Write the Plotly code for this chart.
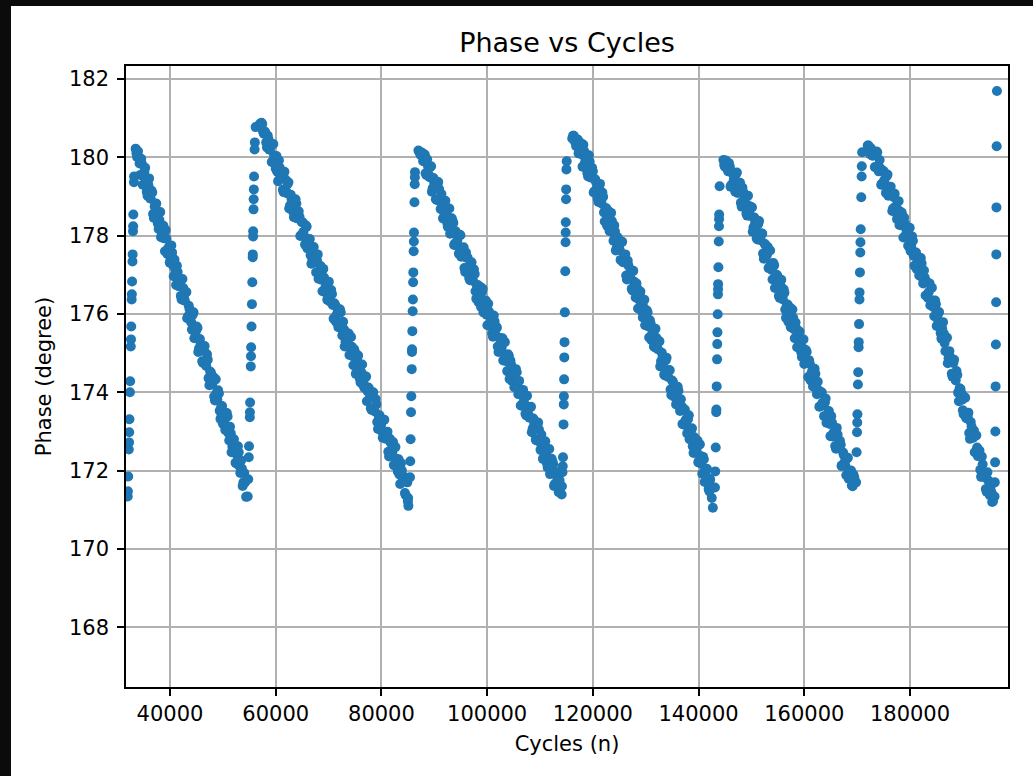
import plotly.graph_objects as go

# ---------------- data ----------------
x_tick_values = [40000, 60000, 80000, 100000, 120000, 140000, 160000, 180000]
x_tick_labels = ["40000", "60000", "80000", "100000", "120000", "140000", "160000", "180000"]
y_tick_values = [168, 170, 172, 174, 176, 178, 180, 182]
y_tick_labels = ["168", "170", "172", "174", "176", "178", "180", "182"]

# rising (jump) parts
rise1_cycles = [32000, 32030, 32100, 32200, 32250, 32280, 32330, 32420, 32460, 32580, 32620,
                32660, 32750, 32780, 32830, 32900, 32930, 33000, 33030, 33060, 33180, 33200]
rise1_phase = [171.34, 171.47, 171.85, 172.54, 172.72, 172.98, 173.31, 174.00, 174.28, 175.17, 175.35,
               175.68, 176.37, 176.50, 176.83, 177.34, 177.52, 178.11, 178.24, 178.54, 179.36, 179.51]

rise2_cycles = [54700, 54800, 54900, 54950, 55100, 55120, 55150, 55280, 55320, 55350, 55420, 55500,
                55570, 55650, 55660, 55720, 55730, 55800, 55830, 55860, 55900, 56000, 56050, 56200]
rise2_phase = [171.34, 171.78, 172.34, 172.62, 173.36, 173.49, 173.74, 174.66, 174.92, 175.15, 175.68, 176.25,
               176.81, 177.45, 177.52, 177.98, 178.11, 178.67, 178.93, 179.18, 179.51, 180.20, 180.38, 180.77]

rise3_cycles = [85400, 85450, 85520, 85600, 85650, 85730, 85780, 85790, 85850, 85910,
                85950, 86000, 86030, 86100, 86130, 86160, 86250, 86300, 86330, 86350]
rise3_phase = [171.83, 172.24, 172.80, 173.49, 173.90, 174.59, 175.03, 175.10, 175.56, 176.07,
               176.37, 176.81, 177.06, 177.60, 177.85, 178.08, 178.85, 179.31, 179.49, 179.62]

rise4_cycles = [114100, 114150, 114250, 114300, 114350, 114450, 114500, 114520, 114560, 114600,
                114640, 114700, 114780, 114840, 114860, 114880, 114930, 114950, 115000, 115050]
rise4_phase = [171.39, 171.60, 171.96, 172.11, 172.34, 173.18, 173.69, 173.90, 174.33, 174.89,
               175.28, 176.04, 177.09, 177.83, 178.08, 178.34, 178.93, 179.18, 179.69, 179.90]

rise5_cycles = [143100, 143150, 143250, 143350, 143370, 143430, 143500, 143540, 143570, 143620,
                143670, 143690, 143700, 143750, 143820, 143860, 143880, 143900, 143980]
rise5_phase = [171.57, 171.98, 172.59, 173.49, 173.56, 174.15, 174.84, 175.23, 175.53, 175.99,
               176.50, 176.63, 176.76, 177.19, 177.85, 178.24, 178.42, 178.54, 179.26]

rise6_cycles = [169800, 169900, 169980, 170020, 170050, 170150, 170200, 170280, 170300, 170360,
                170440, 170460, 170530, 170600, 170630, 170680, 170780, 170850, 170880, 170950]
rise6_phase = [171.70, 172.47, 172.98, 173.23, 173.44, 174.20, 174.51, 175.15, 175.28, 175.74,
               176.37, 176.55, 177.06, 177.57, 177.83, 178.16, 178.98, 179.51, 179.77, 180.13]

rise7_cycles = [196000, 196050, 196100, 196150, 196200, 196250, 196300, 196330, 196360, 196400, 196450]
rise7_phase = [171.34, 171.70, 172.21, 173.00, 174.15, 175.22, 176.30, 177.52, 178.72, 180.28, 181.69]

# falling (drift) parts, first sampling row
fall1_cycles = [33500, 33800, 34100, 34400, 34700, 35000, 35300, 35600, 35900, 36200, 36500, 36800,
                37100, 37400, 37700, 38000, 38300, 38600, 38900, 39200, 39500, 39800, 40100, 40400,
                40700, 41000, 41300, 41600, 41900, 42200, 42500, 42800, 43100, 43400, 43700, 44000,
                44300, 44600, 44900, 45200, 45500, 45800, 46100, 46400, 46700, 47000, 47300, 47600,
                47900, 48200, 48500, 48800, 49100, 49400, 49700, 50000, 50300, 50600, 50900, 51200,
                51500, 51800, 52100, 52400, 52700, 53000, 53300, 53600, 53900, 54200, 54400]
fall1_phase = [180.22, 180.00, 179.99, 179.55, 179.83, 179.51, 179.73, 179.12, 179.30, 178.96, 179.15, 178.55,
               178.74, 178.82, 178.31, 178.40, 177.96, 178.25, 177.93, 178.14, 177.53, 177.71, 177.38, 177.57,
               176.96, 177.15, 177.23, 176.71, 176.82, 176.37, 176.66, 176.34, 176.56, 175.94, 176.12, 175.79,
               175.98, 175.38, 175.56, 175.64, 175.12, 175.23, 174.79, 175.07, 174.75, 174.97, 174.36, 174.53,
               174.20, 174.39, 173.79, 173.98, 174.05, 173.53, 173.64, 173.20, 173.49, 173.16, 173.38, 172.77,
               172.95, 172.61, 172.80, 172.20, 172.39, 172.47, 171.94, 172.05, 171.70, 171.70, 171.33]

fall2_cycles = [57000, 57300, 57600, 57900, 58200, 58500, 58800, 59100, 59400, 59700,
                60000, 60300, 60600, 60900, 61200, 61500, 61800, 62100, 62400, 62700,
                63000, 63300, 63600, 63900, 64200, 64500, 64800, 65100, 65400, 65700,
                66000, 66300, 66600, 66900, 67200, 67500, 67800, 68100, 68400, 68700,
                69000, 69300, 69600, 69900, 70200, 70500, 70800, 71100, 71400, 71700,
                72000, 72300, 72600, 72900, 73200, 73500, 73800, 74100, 74400, 74700,
                75000, 75300, 75600, 75900, 76200, 76500, 76800, 77100, 77400, 77700,
                78000, 78300, 78600, 78900, 79200, 79500, 79800, 80100, 80400, 80700,
                81000, 81300, 81600, 81900, 82200, 82500, 82800, 83100, 83400, 83700,
                84000, 84300, 84600, 84900, 85000, 85100]
fall2_phase = [180.85, 180.88, 180.66, 180.66, 180.38, 180.55, 180.19, 180.30, 179.88, 180.04,
               179.71, 179.63, 179.92, 179.54, 179.58, 179.11, 179.44, 179.08, 179.36, 178.77,
               178.93, 178.61, 178.53, 178.82, 178.44, 178.48, 178.01, 178.34, 177.98, 178.26,
               177.67, 177.82, 177.50, 177.42, 177.71, 177.33, 177.37, 176.90, 177.23, 176.87,
               177.15, 176.56, 176.72, 176.40, 176.32, 176.61, 176.23, 176.27, 175.80, 176.13,
               175.77, 176.04, 175.45, 175.61, 175.29, 175.21, 175.50, 175.12, 175.16, 174.69,
               175.02, 174.66, 174.94, 174.35, 174.51, 174.19, 174.11, 174.40, 174.02, 174.06,
               173.59, 173.91, 173.55, 173.83, 173.24, 173.40, 173.08, 173.00, 173.29, 172.91,
               172.95, 172.48, 172.81, 172.45, 172.73, 172.14, 172.30, 171.98, 171.90, 172.19,
               171.81, 171.84, 171.37, 171.70, 171.22, 171.10]

fall3_cycles = [87000, 87300, 87600, 87900, 88200, 88500, 88800, 89100, 89400, 89700,
                90000, 90300, 90600, 90900, 91200, 91500, 91800, 92100, 92400, 92700,
                93000, 93300, 93600, 93900, 94200, 94500, 94800, 95100, 95400, 95700,
                96000, 96300, 96600, 96900, 97200, 97500, 97800, 98100, 98400, 98700,
                99000, 99300, 99600, 99900, 100200, 100500, 100800, 101100, 101400, 101700,
                102000, 102300, 102600, 102900, 103200, 103500, 103800, 104100, 104400, 104700,
                105000, 105300, 105600, 105900, 106200, 106500, 106800, 107100, 107400, 107700,
                108000, 108300, 108600, 108900, 109200, 109500, 109800, 110100, 110400, 110700,
                111000, 111300, 111600, 111900, 112200, 112500, 112800, 113100, 113400, 113700, 113800]
fall3_phase = [180.17, 180.10, 180.12, 179.90, 180.07, 179.55, 179.78, 179.49, 179.77, 179.21,
               179.34, 178.93, 179.32, 179.19, 178.68, 178.90, 178.61, 178.89, 178.34, 178.46,
               178.05, 178.44, 178.32, 177.80, 178.02, 177.73, 178.02, 177.46, 177.58, 177.17,
               177.57, 177.44, 176.92, 177.14, 176.86, 177.14, 176.58, 176.70, 176.30, 176.69,
               176.56, 176.04, 176.27, 175.98, 176.26, 175.70, 175.83, 175.42, 175.81, 175.68,
               175.17, 175.39, 175.10, 175.38, 174.83, 174.95, 174.54, 174.93, 174.81, 174.29,
               174.51, 174.22, 174.51, 173.95, 174.07, 173.66, 174.06, 173.93, 173.41, 173.63,
               173.35, 173.63, 173.07, 173.19, 172.79, 173.18, 173.05, 172.53, 172.76, 172.47,
               172.75, 172.19, 172.32, 171.91, 172.30, 172.17, 171.66, 171.88, 171.59, 171.75, 171.45]

fall4_cycles = [116100, 116400, 116700, 117000, 117300, 117600, 117900, 118200, 118500, 118800,
                119100, 119400, 119700, 120000, 120300, 120600, 120900, 121200, 121500, 121800,
                122100, 122400, 122700, 123000, 123300, 123600, 123900, 124200, 124500, 124800,
                125100, 125400, 125700, 126000, 126300, 126600, 126900, 127200, 127500, 127800,
                128100, 128400, 128700, 129000, 129300, 129600, 129900, 130200, 130500, 130800,
                131100, 131400, 131700, 132000, 132300, 132600, 132900, 133200, 133500, 133800,
                134100, 134400, 134700, 135000, 135300, 135600, 135900, 136200, 136500, 136800,
                137100, 137400, 137700, 138000, 138300, 138600, 138900, 139200, 139500, 139800,
                140100, 140400, 140700, 141000, 141300, 141600, 141900, 142200, 142500, 142700]
fall4_phase = [180.48, 180.55, 180.38, 180.46, 180.10, 180.32, 180.07, 180.32, 179.86, 179.97,
               179.51, 179.89, 179.48, 179.64, 179.13, 179.37, 178.95, 179.19, 178.90, 179.10,
               178.59, 178.70, 178.25, 178.62, 178.22, 178.37, 177.87, 178.10, 177.68, 177.92,
               177.63, 177.84, 177.32, 177.44, 176.98, 177.36, 176.95, 177.10, 176.60, 176.83,
               176.42, 176.65, 176.37, 176.57, 176.06, 176.17, 175.71, 176.09, 175.68, 175.84,
               175.33, 175.57, 175.15, 175.39, 175.10, 175.30, 174.79, 174.90, 174.45, 174.82,
               174.42, 174.57, 174.07, 174.30, 173.89, 174.12, 173.83, 174.04, 173.52, 173.64,
               173.18, 173.56, 173.15, 173.31, 172.80, 173.03, 172.62, 172.85, 172.57, 172.77,
               172.26, 172.37, 171.92, 172.29, 171.88, 172.04, 171.53, 171.77, 171.30, 171.05]

fall5_cycles = [144700, 145000, 145300, 145600, 145900, 146200, 146500, 146800, 147100, 147400,
                147700, 148000, 148300, 148600, 148900, 149200, 149500, 149800, 150100, 150400,
                150700, 151000, 151300, 151600, 151900, 152200, 152500, 152800, 153100, 153400,
                153700, 154000, 154300, 154600, 154900, 155200, 155500, 155800, 156100, 156400,
                156700, 157000, 157300, 157600, 157900, 158200, 158500, 158800, 159100, 159400,
                159700, 160000, 160300, 160600, 160900, 161200, 161500, 161800, 162100, 162400,
                162700, 163000, 163300, 163600, 163900, 164200, 164500, 164800, 165100, 165400,
                165700, 166000, 166300, 166600, 166900, 167200, 167500, 167800, 168100, 168400,
                168700, 169000, 169300, 169600]
fall5_phase = [179.93, 179.76, 179.82, 179.64, 179.77, 179.29, 179.57, 179.33, 179.57, 179.09,
               179.22, 178.84, 179.23, 178.92, 179.01, 178.51, 178.76, 178.50, 178.72, 178.21,
               178.33, 177.93, 178.30, 177.99, 178.06, 177.54, 177.79, 177.51, 177.71, 177.19,
               177.29, 176.88, 177.24, 176.91, 176.98, 176.46, 176.71, 176.43, 176.63, 176.11,
               176.21, 175.80, 176.16, 175.83, 175.90, 175.38, 175.63, 175.35, 175.55, 175.03,
               175.13, 174.72, 175.08, 174.75, 174.82, 174.30, 174.55, 174.27, 174.47, 173.95,
               174.05, 173.64, 174.00, 173.67, 173.74, 173.22, 173.47, 173.19, 173.39, 172.87,
               172.97, 172.56, 172.92, 172.59, 172.66, 172.14, 172.39, 172.11, 172.31, 171.79,
               171.89, 171.62, 171.90, 171.72]

fall6_cycles = [172000, 172300, 172600, 172900, 173200, 173500, 173800, 174100, 174400, 174700,
                175000, 175300, 175600, 175900, 176200, 176500, 176800, 177100, 177400, 177700,
                178000, 178300, 178600, 178900, 179200, 179500, 179800, 180100, 180400, 180700,
                181000, 181300, 181600, 181900, 182200, 182500, 182800, 183100, 183400, 183700,
                184000, 184300, 184600, 184900, 185200, 185500, 185800, 186100, 186400, 186700,
                187000, 187300, 187600, 187900, 188200, 188500, 188800, 189100, 189400, 189700,
                190000, 190300, 190600, 190900, 191200, 191500, 191800, 192100, 192400, 192700,
                193000, 193300, 193600, 193900, 194200, 194500, 194800, 195100, 195400, 195700]
fall6_phase = [180.30, 180.15, 180.23, 180.04, 180.12, 179.74, 180.13, 179.64, 179.72, 179.33,
               179.65, 179.31, 179.52, 179.02, 179.17, 179.09, 178.69, 179.07, 178.58, 178.66,
               178.27, 178.60, 178.25, 178.46, 177.96, 178.11, 178.03, 177.61, 177.98, 177.48,
               177.54, 177.14, 177.45, 177.09, 177.29, 176.78, 176.92, 176.83, 176.41, 176.78,
               176.28, 176.34, 175.94, 176.25, 175.88, 176.05, 175.51, 175.62, 175.50, 175.05,
               175.39, 174.87, 174.90, 174.47, 174.75, 174.37, 174.54, 173.99, 174.10, 173.98,
               173.54, 173.88, 173.35, 173.38, 172.96, 173.24, 172.85, 173.02, 172.47, 172.59,
               172.47, 172.02, 172.36, 171.84, 171.88, 171.46, 171.75, 171.37, 171.45, 171.22]

# falling (drift) parts, second sampling row (in between the first row)
fall1b_cycles = [33650, 33950, 34250, 34550, 34850, 35150, 35450, 35750, 36050, 36350, 36650, 36950,
                 37250, 37550, 37850, 38150, 38450, 38750, 39050, 39350, 39650, 39950, 40250, 40550,
                 40850, 41150, 41450, 41750, 42050, 42350, 42650, 42950, 43250, 43550, 43850, 44150,
                 44450, 44750, 45050, 45350, 45650, 45950, 46250, 46550, 46850, 47150, 47450, 47750,
                 48050, 48350, 48650, 48950, 49250, 49550, 49850, 50150, 50450, 50750, 51050, 51350,
                 51650, 51950, 52250, 52550, 52850, 53150, 53450, 53750, 54050]
fall1b_phase = [180.10, 180.15, 179.84, 179.96, 179.30, 179.63, 179.37, 179.02, 179.46, 178.94, 179.10, 178.45,
                178.78, 178.52, 178.17, 178.60, 178.09, 178.25, 177.60, 177.92, 177.66, 177.31, 177.75, 177.24,
                177.39, 176.74, 177.07, 176.81, 176.46, 176.89, 176.38, 176.54, 175.89, 176.21, 175.95, 175.60,
                176.04, 175.53, 175.68, 175.03, 175.36, 175.10, 174.75, 175.18, 174.67, 174.83, 174.18, 174.50,
                174.24, 173.89, 174.33, 173.82, 173.97, 173.32, 173.65, 173.39, 173.04, 173.47, 172.96, 173.12,
                172.47, 172.79, 172.53, 172.18, 172.62, 172.11, 172.26, 171.61, 171.94]

fall2b_cycles = [57150, 57450, 57750, 58050, 58350, 58650, 58950, 59250, 59550, 59850,
                 60150, 60450, 60750, 61050, 61350, 61650, 61950, 62250, 62550, 62850,
                 63150, 63450, 63750, 64050, 64350, 64650, 64950, 65250, 65550, 65850,
                 66150, 66450, 66750, 67050, 67350, 67650, 67950, 68250, 68550, 68850,
                 69150, 69450, 69750, 70050, 70350, 70650, 70950, 71250, 71550, 71850,
                 72150, 72450, 72750, 73050, 73350, 73650, 73950, 74250, 74550, 74850,
                 75150, 75450, 75750, 76050, 76350, 76650, 76950, 77250, 77550, 77850,
                 78150, 78450, 78750, 79050, 79350, 79650, 79950, 80250, 80550, 80850,
                 81150, 81450, 81750, 82050, 82350, 82650, 82950, 83250, 83550, 83850,
                 84150, 84450, 84750, 85050]
fall2b_phase = [180.78, 180.85, 180.60, 180.63, 180.25, 180.45, 180.21, 179.88, 180.34, 179.85,
                180.03, 179.39, 179.74, 179.50, 179.17, 179.63, 179.14, 179.32, 178.69, 179.04,
                178.80, 178.47, 178.93, 178.44, 178.62, 177.99, 178.34, 178.10, 177.77, 178.23,
                177.74, 177.91, 177.28, 177.63, 177.39, 177.06, 177.52, 177.03, 177.21, 176.58,
                176.93, 176.69, 176.36, 176.82, 176.33, 176.51, 175.88, 176.23, 175.99, 175.66,
                176.12, 175.62, 175.80, 175.17, 175.52, 175.28, 174.95, 175.41, 174.92, 175.10,
                174.47, 174.82, 174.58, 174.25, 174.71, 174.22, 174.40, 173.77, 174.12, 173.88,
                173.55, 174.00, 173.51, 173.69, 173.06, 173.41, 173.17, 172.84, 173.30, 172.81,
                172.99, 172.36, 172.71, 172.47, 172.14, 172.60, 172.11, 172.29, 171.66, 172.01,
                171.77, 171.43, 171.75, 171.30]

fall3b_cycles = [87150, 87450, 87750, 88050, 88350, 88650, 88950, 89250, 89550, 89850,
                 90150, 90450, 90750, 91050, 91350, 91650, 91950, 92250, 92550, 92850,
                 93150, 93450, 93750, 94050, 94350, 94650, 94950, 95250, 95550, 95850,
                 96150, 96450, 96750, 97050, 97350, 97650, 97950, 98250, 98550, 98850,
                 99150, 99450, 99750, 100050, 100350, 100650, 100950, 101250, 101550, 101850,
                 102150, 102450, 102750, 103050, 103350, 103650, 103950, 104250, 104550, 104850,
                 105150, 105450, 105750, 106050, 106350, 106650, 106950, 107250, 107550, 107850,
                 108150, 108450, 108750, 109050, 109350, 109650, 109950, 110250, 110550, 110850,
                 111150, 111450, 111750, 112050, 112350, 112650, 112950, 113250, 113550]
fall3b_phase = [180.15, 180.05, 180.10, 179.92, 179.59, 179.95, 179.56, 179.75, 179.12, 179.47,
                179.23, 178.91, 179.37, 178.88, 179.06, 178.44, 178.79, 178.55, 178.23, 178.69,
                178.20, 178.38, 177.76, 178.11, 177.87, 177.54, 178.01, 177.52, 177.70, 177.07,
                177.43, 177.19, 176.86, 177.32, 176.84, 177.02, 176.39, 176.74, 176.51, 176.18,
                176.64, 176.15, 176.34, 175.71, 176.06, 175.82, 175.50, 175.96, 175.47, 175.65,
                175.03, 175.38, 175.14, 174.81, 175.28, 174.79, 174.97, 174.34, 174.70, 174.46,
                174.13, 174.59, 174.11, 174.29, 173.66, 174.01, 173.78, 173.45, 173.91, 173.42,
                173.61, 172.98, 173.33, 173.09, 172.77, 173.23, 172.74, 172.92, 172.30, 172.65,
                172.41, 172.08, 172.55, 172.06, 172.24, 171.61, 171.97, 171.73, 171.45]

fall4b_cycles = [116250, 116550, 116850, 117150, 117450, 117750, 118050, 118350, 118650, 118950,
                 119250, 119550, 119850, 120150, 120450, 120750, 121050, 121350, 121650, 121950,
                 122250, 122550, 122850, 123150, 123450, 123750, 124050, 124350, 124650, 124950,
                 125250, 125550, 125850, 126150, 126450, 126750, 127050, 127350, 127650, 127950,
                 128250, 128550, 128850, 129150, 129450, 129750, 130050, 130350, 130650, 130950,
                 131250, 131550, 131850, 132150, 132450, 132750, 133050, 133350, 133650, 133950,
                 134250, 134550, 134850, 135150, 135450, 135750, 136050, 136350, 136650, 136950,
                 137250, 137550, 137850, 138150, 138450, 138750, 139050, 139350, 139650, 139950,
                 140250, 140550, 140850, 141150, 141450, 141750, 142050, 142350]
fall4b_phase = [180.55, 180.42, 180.28, 180.45, 180.15, 180.36, 179.76, 180.16, 179.94, 179.60,
                180.05, 179.56, 179.73, 179.10, 179.44, 179.20, 178.86, 179.32, 178.82, 178.99,
                178.36, 178.70, 178.46, 178.12, 178.58, 178.08, 178.26, 177.62, 177.96, 177.72,
                177.38, 177.84, 177.34, 177.52, 176.88, 177.23, 176.98, 176.64, 177.10, 176.60,
                176.78, 176.14, 176.49, 176.24, 175.91, 176.36, 175.86, 176.04, 175.40, 175.75,
                175.50, 175.17, 175.62, 175.13, 175.30, 174.66, 175.01, 174.76, 174.43, 174.88,
                174.39, 174.56, 173.93, 174.27, 174.03, 173.69, 174.14, 173.65, 173.82, 173.19,
                173.53, 173.29, 172.95, 173.41, 172.91, 173.08, 172.45, 172.79, 172.55, 172.21,
                172.67, 172.17, 172.35, 171.71, 172.05, 171.81, 171.47, 171.60]

fall5b_cycles = [144850, 145150, 145450, 145750, 146050, 146350, 146650, 146950, 147250, 147550,
                 147850, 148150, 148450, 148750, 149050, 149350, 149650, 149950, 150250, 150550,
                 150850, 151150, 151450, 151750, 152050, 152350, 152650, 152950, 153250, 153550,
                 153850, 154150, 154450, 154750, 155050, 155350, 155650, 155950, 156250, 156550,
                 156850, 157150, 157450, 157750, 158050, 158350, 158650, 158950, 159250, 159550,
                 159850, 160150, 160450, 160750, 161050, 161350, 161650, 161950, 162250, 162550,
                 162850, 163150, 163450, 163750, 164050, 164350, 164650, 164950, 165250, 165550,
                 165850, 166150, 166450, 166750, 167050, 167350, 167650, 167950, 168250, 168550,
                 168850, 169150, 169450]
fall5b_phase = [179.80, 179.92, 179.70, 179.85, 179.25, 179.63, 179.42, 179.12, 179.61, 179.14,
                179.35, 178.74, 179.11, 178.88, 178.56, 179.02, 178.54, 178.73, 178.10, 178.46,
                178.23, 177.90, 178.37, 177.88, 178.05, 177.41, 177.76, 177.51, 177.17, 177.62,
                177.12, 177.30, 176.66, 177.00, 176.75, 176.41, 176.87, 176.37, 176.54, 175.90,
                176.24, 176.00, 175.66, 176.11, 175.61, 175.78, 175.15, 175.49, 175.24, 174.90,
                175.35, 174.86, 175.03, 174.39, 174.73, 174.48, 174.15, 174.60, 174.10, 174.27,
                173.63, 173.98, 173.73, 173.39, 173.84, 173.34, 173.52, 172.88, 173.22, 172.97,
                172.63, 173.09, 172.59, 172.76, 172.12, 172.46, 172.22, 171.88, 172.33, 171.83,
                172.00, 171.60, 171.83]

fall6b_cycles = [172150, 172450, 172750, 173050, 173350, 173650, 173950, 174250, 174550, 174850,
                 175150, 175450, 175750, 176050, 176350, 176650, 176950, 177250, 177550, 177850,
                 178150, 178450, 178750, 179050, 179350, 179650, 179950, 180250, 180550, 180850,
                 181150, 181450, 181750, 182050, 182350, 182650, 182950, 183250, 183550, 183850,
                 184150, 184450, 184750, 185050, 185350, 185650, 185950, 186250, 186550, 186850,
                 187150, 187450, 187750, 188050, 188350, 188650, 188950, 189250, 189550, 189850,
                 190150, 190450, 190750, 191050, 191350, 191650, 191950, 192250, 192550, 192850,
                 193150, 193450, 193750, 194050, 194350, 194650, 194950, 195250, 195550]
fall6b_phase = [180.30, 180.08, 180.16, 180.05, 179.75, 180.15, 179.74, 179.93, 179.30, 179.65,
                179.42, 179.09, 179.56, 179.07, 179.25, 178.63, 178.98, 178.74, 178.42, 178.88,
                178.40, 178.58, 177.95, 178.31, 178.07, 177.74, 178.20, 177.70, 177.87, 177.23,
                177.57, 177.32, 176.98, 177.43, 176.93, 177.11, 176.47, 176.81, 176.56, 176.22,
                176.67, 176.17, 176.34, 175.69, 176.01, 175.74, 175.37, 175.79, 175.26, 175.40,
                174.74, 175.05, 174.77, 174.40, 174.83, 174.30, 174.44, 173.77, 174.08, 173.81,
                173.44, 173.86, 173.33, 173.48, 172.81, 173.12, 172.84, 172.47, 172.90, 172.37,
                172.51, 171.84, 172.16, 171.89, 171.53, 171.96, 171.44, 171.59, 171.20]

# ---------------- assemble ----------------
parts = [
    (rise1_cycles, rise1_phase), (fall1_cycles, fall1_phase), (fall1b_cycles, fall1b_phase),
    (rise2_cycles, rise2_phase), (fall2_cycles, fall2_phase), (fall2b_cycles, fall2b_phase),
    (rise3_cycles, rise3_phase), (fall3_cycles, fall3_phase), (fall3b_cycles, fall3b_phase),
    (rise4_cycles, rise4_phase), (fall4_cycles, fall4_phase), (fall4b_cycles, fall4b_phase),
    (rise5_cycles, rise5_phase), (fall5_cycles, fall5_phase), (fall5b_cycles, fall5b_phase),
    (rise6_cycles, rise6_phase), (fall6_cycles, fall6_phase), (fall6b_cycles, fall6b_phase),
    (rise7_cycles, rise7_phase),
]
cycles, phase = [], []
for c, p in parts:
    n = min(len(c), len(p))
    cycles += c[:n]
    phase += p[:n]

FONT = "DejaVu Sans, Liberation Sans, sans-serif"
W, H = 1033, 776
L, R, T, B = 126, 25, 66, 89
PW, PH = W - L - R, H - T - B

fig = go.Figure(go.Scatter(
    x=cycles, y=phase, mode="markers",
    marker=dict(color="#1f77b4", size=10, line=dict(width=0)),
    showlegend=False, hoverinfo="skip", cliponaxis=True,
))

axis_common = dict(
    showgrid=True, gridcolor="#b0b0b0", gridwidth=1.6,
    showline=True, linecolor="black", linewidth=1.6, mirror=True,
    ticks="outside", ticklen=7, tickwidth=1.6, tickcolor="black",
    tickfont=dict(family=FONT, size=21, color="black"),
    zeroline=False,
)

fig.update_layout(
    width=W, height=H,
    margin=dict(l=L, r=R, t=T, b=B, pad=0),
    paper_bgcolor="white", plot_bgcolor="white",
    title=dict(text="Phase vs Cycles", x=(L + PW / 2) / W, xanchor="center",
               y=1 - 43 / H, yanchor="middle", yref="container",
               font=dict(family=FONT, size=27, color="black")),
    xaxis=dict(range=[31675, 198543], tickvals=x_tick_values, ticktext=x_tick_labels,
               title=dict(text="Cycles (n)", standoff=11,
                          font=dict(family=FONT, size=21, color="black")),
               **axis_common),
    yaxis=dict(range=[166.475, 182.33], tickvals=y_tick_values, ticktext=y_tick_labels,
               ticklabelstandoff=4,
               title=dict(text="Phase (degree)", standoff=12,
                          font=dict(family=FONT, size=21, color="black")),
               **axis_common),
    shapes=[
        # dark frame strips at the left and top edges of the picture
        dict(type="rect", xref="paper", yref="paper",
             x0=(-L - 20) / PW, x1=(11 - L) / PW, y0=-0.3, y1=1.3,
             fillcolor="#0b0b0b", line=dict(width=0), layer="above"),
        dict(type="rect", xref="paper", yref="paper",
             x0=(-L - 20) / PW, x1=1.2, y0=(H - B - 6) / PH, y1=1.3,
             fillcolor="#0b0b0b", line=dict(width=0), layer="above"),
    ],
)

fig.write_html("out.html", config={"displayModeBar": False})
